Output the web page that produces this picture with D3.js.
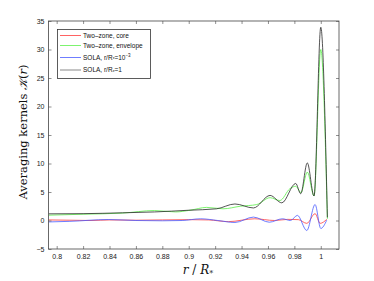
<!DOCTYPE html>
<html>
<head>
<meta charset="utf-8">
<script src="https://cdn.jsdelivr.net/npm/d3@7"></script>
<style>
  body { margin: 0; background: #fff; }
  svg text { font-family: "Liberation Sans", Arial, sans-serif; }
</style>
</head>
<body>
<div id="chart"></div>
<script>
// tick values
var xTicks = [0.8, 0.82, 0.84, 0.86, 0.88, 0.9, 0.92, 0.94, 0.96, 0.98, 1];
var yTicks = [-5, 0, 5, 10, 15, 20, 25, 30, 35];

// series
var coreX = [0.794, 0.81, 0.826, 0.84, 0.86, 0.88, 0.9, 0.915, 0.93, 0.95, 0.965, 0.975, 0.983, 0.9894, 0.9957, 0.9995, 1.0045];
var coreY = [0.1, 0.05, 0.0, 0.1, 0.05, 0.1, 0.15, 0.1, -0.2, 0.3, 0.0, 0.2, 0.15, -0.5, 1.2, -0.5, 0.2];

var envX = [0.794, 0.82, 0.85, 0.874, 0.89, 0.901, 0.9136, 0.926, 0.939, 0.9515, 0.9616, 0.969, 0.9767, 0.981, 0.985, 0.9898, 0.9949, 1.0, 1.005];
var envY = [0.93, 1.1, 1.3, 1.75, 1.5, 1.8, 2.3, 2.05, 2.5, 2.8, 4.0, 3.5, 5.6, 6.0, 4.9, 8.5, 4.3, 30, 0.3];

var solaSmallX = [0.794, 0.81, 0.839, 0.86, 0.88, 0.895, 0.909, 0.922, 0.935, 0.949, 0.961, 0.971, 0.977, 0.9823, 0.9894, 0.9957, 1.0, 1.0045];
var solaSmallY = [-0.25, -0.15, 0.17, 0.0, -0.05, 0.0, 0.3, 0.0, -0.35, 0.6, -0.3, 0.3, 0.0, 0.9, -1.75, 2.8, -1.4, 0.05];

var solaOneX = [0.794, 0.82, 0.85, 0.874, 0.9, 0.921, 0.935, 0.949, 0.9616, 0.9705, 0.981, 0.9848, 0.9898, 0.9949, 1.0, 1.005];
var solaOneY = [1.17, 1.2, 1.35, 1.5, 1.8, 2.05, 2.9, 2.2, 4.4, 3.1, 6.5, 4.7, 10.1, 4.3, 33.9, 0.55];

var seriesNames = ["Two\u2013zone, core", "Two\u2013zone, envelope", "SOLA, r/R*=10^-3", "SOLA, r/R*=1"];
var seriesColors = ["#ff3b3b", "#5cf04a", "#4a5cff", "#2a2a2a"];

var width = 374, height = 281;
var margin = {left: 48.5, right: 35, top: 21, bottom: 32};

var svg = d3.select("#chart").append("svg").attr("width", width).attr("height", height);

var x = d3.scaleLinear().domain([0.7938, 1.0138]).range([margin.left, width - margin.right]);
var y = d3.scaleLinear().domain([-5, 35]).range([height - margin.bottom, margin.top]);

svg.append("defs").append("clipPath").attr("id", "clip")
    .append("rect").attr("x", margin.left).attr("y", margin.top)
    .attr("width", x.range()[1] - margin.left).attr("height", y.range()[0] - margin.top);

var line = d3.line().x(function(d){ return x(d[0]); }).y(function(d){ return y(d[1]); }).curve(d3.curveMonotoneX);

var allSeries = [[coreX, coreY], [envX, envY], [solaSmallX, solaSmallY], [solaOneX, solaOneY]];
var drawOrder = [1, 3, 0, 2];

var plot = svg.append("g").attr("clip-path", "url(#clip)");
drawOrder.forEach(function(i) {
    var pts = d3.zip(allSeries[i][0], allSeries[i][1]);
    plot.append("path").datum(pts)
        .attr("d", line)
        .attr("fill", "none")
        .attr("stroke", seriesColors[i])
        .attr("stroke-width", 0.8);
});

// axes: box with inward ticks on all sides
var axisColor = "#444";
var x0 = x.range()[0], x1 = x.range()[1], y0 = y.range()[0], y1 = y.range()[1];

var gB = svg.append("g").attr("transform", "translate(0," + y0 + ")")
    .call(d3.axisBottom(x).tickValues(xTicks).tickSizeInner(-3).tickSizeOuter(0).tickPadding(5)
        .tickFormat(function(d){ return d3.format("~g")(d); }));
var gT = svg.append("g").attr("transform", "translate(0," + y1 + ")")
    .call(d3.axisTop(x).tickValues(xTicks).tickSizeInner(-3).tickSizeOuter(0).tickFormat(""));
var gL = svg.append("g").attr("transform", "translate(" + x0 + ",0)")
    .call(d3.axisLeft(y).tickValues(yTicks).tickSizeInner(-3).tickSizeOuter(0).tickPadding(4));
var gR = svg.append("g").attr("transform", "translate(" + x1 + ",0)")
    .call(d3.axisRight(y).tickValues(yTicks).tickSizeInner(-3).tickSizeOuter(0).tickFormat(""));

[gB, gT, gL, gR].forEach(function(g) {
    g.select(".domain").remove();
    g.selectAll("line").attr("stroke", axisColor).attr("stroke-width", 0.6);
    g.selectAll("text").attr("fill", "#222").style("font-size", "7px");
});

svg.append("rect").attr("x", x0).attr("y", y1).attr("width", x1 - x0).attr("height", y0 - y1)
    .attr("fill", "none").attr("stroke", axisColor).attr("stroke-width", 0.8);

// axis labels
var serif = "'DejaVu Serif', 'Liberation Serif', serif";
var yl = svg.append("text")
    .attr("transform", "translate(27,132) rotate(-90)")
    .attr("text-anchor", "middle")
    .style("font-family", serif).style("font-size", "11.5px").attr("fill", "#111");
yl.append("tspan").text("Averaging kernels ");
yl.append("tspan").text("\ud835\udca6").style("font-style", "italic");
yl.append("tspan").text("(");
yl.append("tspan").text("r").style("font-style", "italic");
yl.append("tspan").text(")");

var xl = svg.append("text")
    .attr("x", 198).attr("y", 274)
    .attr("text-anchor", "middle")
    .style("font-family", serif).style("font-size", "12px").attr("fill", "#111");
xl.append("tspan").text("r").style("font-style", "italic");
xl.append("tspan").text(" / ");
xl.append("tspan").text("R").style("font-style", "italic");
xl.append("tspan").text("*").attr("dy", 2).style("font-size", "8px");

// legend
var legend = svg.append("g");
legend.append("rect").attr("x", 57.5).attr("y", 29.5).attr("width", 93).attr("height", 49)
    .attr("fill", "#fff").attr("stroke", "#333").attr("stroke-width", 0.8);
var legendY = [35.5, 45.5, 57.5, 70];
seriesNames.forEach(function(name, i) {
    legend.append("line").attr("x1", 60).attr("x2", 81).attr("y1", legendY[i]).attr("y2", legendY[i])
        .attr("stroke", seriesColors[i]).attr("stroke-width", i === 3 ? 1 : 0.8)
        .attr("stroke-opacity", i === 3 ? 0.55 : 1);
    var t = legend.append("text").attr("x", 83).attr("y", legendY[i] + 2.3)
        .style("font-size", "6.5px").attr("fill", "#111");
    if (i < 2) {
        t.text(name);
    } else {
        t.append("tspan").text("SOLA, r/R");
        t.append("tspan").text("*").attr("dy", 1.5).style("font-size", "4.5px");
        t.append("tspan").text("=" + (i === 2 ? "10" : "1")).attr("dy", -1.5);
        if (i === 2) {
            t.append("tspan").text("\u22123").attr("dy", -3).style("font-size", "4.5px");
        }
    }
});
</script>
</body>
</html>
